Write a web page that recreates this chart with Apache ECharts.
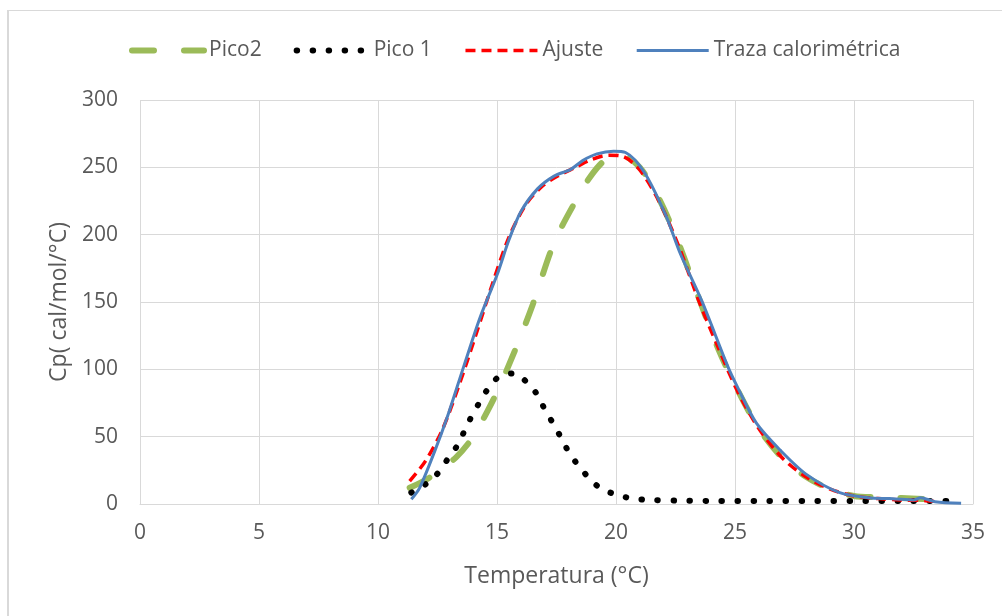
<!DOCTYPE html>
<html>
<head>
<meta charset="UTF-8">
<title>Cp vs Temperatura</title>
<script src="https://cdn.jsdelivr.net/npm/echarts@6/dist/echarts.min.js"></script>
<style>
    html, body { margin: 0; padding: 0; background: #fff; }
    #chart { width: 1002px; height: 616px; }
    #frame {
        position: absolute; left: 7px; top: 10px; width: 1000px; height: 620px;
        border-left: 2px solid #d9d9d9; border-top: 1px solid #d9d9d9;
        pointer-events: none;
    }
</style>
</head>
<body>
<div id="chart"></div>
<div id="frame"></div>
<script>
// tick labels
var xTicks = [0, 5, 10, 15, 20, 25, 30, 35];
var yTicks = [0, 50, 100, 150, 200, 250, 300];

// Pico2
var tPico2 = [11.33, 12.2, 13.3, 14.0, 14.6, 15.1, 15.8, 16.5, 17.4, 18.4, 19.0, 19.6, 20.3, 21.0, 21.8, 22.6, 23.5, 24.3, 25.1, 26.0, 27.0, 28.0, 29.0, 30.0, 31.0, 32.0, 33.0, 33.6];
var cpPico2 = [12, 20, 35, 50, 69, 87, 116, 148, 194, 228, 245, 256, 258, 250, 227, 195, 152, 115, 85, 56, 34, 20, 11, 6, 5, 4.5, 3.5, 2.5];

// Pico 1
var tPico1 = [11.4, 12.0, 12.5, 12.9, 13.3, 13.6, 13.9, 14.25, 14.6, 15.05, 15.7, 16.25, 16.7, 17.0, 17.35, 17.7, 18.0, 18.4, 18.85, 19.35, 20.0, 20.7, 21.5, 22.5, 24, 26, 28, 30, 32, 33.9];
var cpPico1 = [8.4, 14.7, 22.6, 32.6, 42.5, 53, 64, 75, 85, 94, 97, 90.5, 81, 70.5, 60, 49, 39, 29, 19.6, 11.7, 7, 4, 3, 2.5, 2.3, 2.2, 2.2, 2.2, 2.2, 2.2];

// Ajuste
var tAjuste = [11.33, 12.0, 12.7, 13.4, 14.1, 14.8, 15.5, 16.2, 16.9, 17.6, 18.3, 19.0, 19.7, 20.3, 21.0, 21.8, 22.6, 23.5, 24.3, 25.1, 26.0, 27.0, 28.0, 29.0, 30.0, 31.0, 32.0, 33.0, 33.6];
var cpAjuste = [17, 32, 55, 88, 125, 163, 198, 222, 236, 244, 250, 256, 259, 258, 248, 225, 193, 150, 116, 84, 56, 34, 20, 11, 6, 4, 3, 2.5, 1.5];

// Traza calorimetrica
var tTraza = [11.4, 11.75, 12.4, 12.9, 13.6, 14.3, 15.0, 15.5, 16.0, 16.7, 17.4, 18.1, 18.6, 19.2, 19.9, 20.4, 21.2, 22.1, 22.7, 23.6, 24.7, 25.1, 25.9, 26.9, 28.0, 29.4, 30.6, 31.5, 32.0, 32.5, 32.8, 33.4, 34.5];
var cpTraza = [3.5, 12, 40, 64, 102, 139, 170, 196, 217, 234, 243.5, 248.5, 255, 260, 262, 261, 246, 214, 186, 151, 102, 87, 60, 40, 22, 8.4, 4.7, 4, 3.5, 3, 4.7, 1.7, 0.5];

function pairs(xs, ys) {
    var out = [];
    for (var i = 0; i < xs.length; i++) out.push([xs[i], ys[i]]);
    return out;
}

var font = '"Open Sans", "Noto Sans", sans-serif';
var grey = '#595959';

var chart = echarts.init(document.getElementById('chart'));
var option = {
    animation: false,
    backgroundColor: '#fff',
    textStyle: { fontFamily: font },
    legend: {
        top: 35,
        left: 124,
        itemWidth: 72,
        itemHeight: 14,
        itemGap: 32,
        itemStyle: { opacity: 0 },
        textStyle: { fontSize: 21, color: grey, fontFamily: font },
        data: [
            { name: 'Pico2', lineStyle: { width: 6 } },
            { name: 'Pico 1', lineStyle: { width: 6 } },
            { name: 'Ajuste', lineStyle: { width: 3.5 } },
            { name: 'Traza calorimétrica', lineStyle: { width: 3 } }
        ]
    },
    grid: { left: 140, right: 29, top: 100, bottom: 112 },
    xAxis: {
        type: 'value',
        min: xTicks[0],
        max: xTicks[xTicks.length - 1],
        interval: 5,
        name: 'Temperatura (°C)',
        nameLocation: 'middle',
        nameGap: 61,
        nameTextStyle: { fontSize: 23, color: grey },
        axisLine: { show: true, lineStyle: { color: '#d9d9d9', width: 1 } },
        axisTick: { show: false },
        axisLabel: { fontSize: 21, color: grey, margin: 19 },
        splitLine: { show: true, lineStyle: { color: '#d9d9d9', width: 1 } }
    },
    yAxis: {
        type: 'value',
        min: yTicks[0],
        max: yTicks[yTicks.length - 1],
        interval: 50,
        name: 'Cp( cal/mol/°C)',
        nameLocation: 'middle',
        nameGap: 65,
        nameTextStyle: { fontSize: 23, color: grey },
        axisLine: { show: false },
        axisTick: { show: false },
        axisLabel: { fontSize: 21, color: grey, margin: 22 },
        splitLine: { show: true, lineStyle: { color: '#d9d9d9', width: 1 } }
    },
    series: [
        {
            name: 'Pico2',
            type: 'line',
            smooth: 0.3,
            showSymbol: false,
            symbol: 'none',
            data: pairs(tPico2, cpPico2),
            itemStyle: { color: '#9bbb59' },
            lineStyle: { color: '#9bbb59', width: 6, type: [22, 30], cap: 'round' },
            z: 2
        },
        {
            name: 'Pico 1',
            type: 'line',
            smooth: 0.3,
            showSymbol: false,
            symbol: 'none',
            data: pairs(tPico1, cpPico1),
            itemStyle: { color: '#000' },
            lineStyle: { color: '#000', width: 6, type: [0.5, 15.5], cap: 'round' },
            z: 3
        },
        {
            name: 'Ajuste',
            type: 'line',
            smooth: 0.3,
            showSymbol: false,
            symbol: 'none',
            data: pairs(tAjuste, cpAjuste),
            itemStyle: { color: '#ff0000' },
            lineStyle: { color: '#ff0000', width: 3.5, type: [10, 6] },
            z: 4
        },
        {
            name: 'Traza calorimétrica',
            type: 'line',
            smooth: 0.3,
            showSymbol: false,
            symbol: 'none',
            data: pairs(tTraza, cpTraza),
            itemStyle: { color: '#4f81bd' },
            lineStyle: { color: '#4f81bd', width: 3 },
            z: 5
        }
    ]
};
chart.setOption(option);
</script>
</body>
</html>
